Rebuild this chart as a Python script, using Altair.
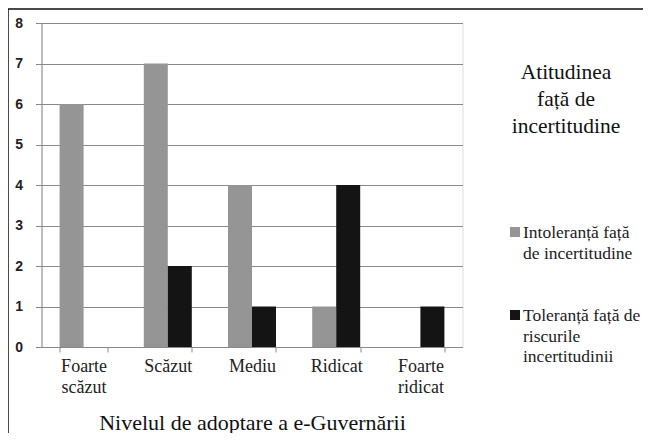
import altair as alt
import pandas as pd

categories = ["Foarte scăzut", "Scăzut", "Mediu", "Ridicat", "Foarte ridicat"]
series = ["Intoleranță față de incertitudine", "Toleranță față de riscurile incertitudinii"]
intoleranta = [6, 7, 4, 1, 0]
toleranta = [0, 2, 1, 4, 1]
colors = ["#959595", "#141414"]
legend_title = ["Atitudinea", "față de", "incertitudine"]
legend_lines = [["Intoleranță față", "de incertitudine"], ["Toleranță față de", "riscurile", "incertitudinii"]]

rows = []
for c, a, b in zip(categories, intoleranta, toleranta):
    rows.append({"cat": c, "series": series[0], "value": a})
    rows.append({"cat": c, "series": series[1], "value": b})
df = pd.DataFrame(rows)

label_expr = (
    "datum.label == 'Foarte scăzut' ? ['Foarte', 'scăzut'] : "
    "datum.label == 'Foarte ridicat' ? ['Foarte', 'ridicat'] : datum.label"
)

SERIF = "Liberation Serif, Times New Roman, serif"
W, H = 421, 324
color_scale = alt.Scale(domain=series, range=colors)

bars = alt.Chart(df).mark_bar().encode(
    x=alt.X(
        "cat:N",
        sort=categories,
        scale=alt.Scale(paddingInner=0.43, paddingOuter=0.215),
        axis=alt.Axis(
            title="Nivelul de adoptare a e-Guvernării",
            labelAngle=0,
            labelExpr=label_expr,
            labelFont=SERIF,
            labelFontSize=18,
            labelLineHeight=21,
            labelColor="#222222",
            labelPadding=5,
            labelBaseline="top",
            tickBand="extent",
            tickSize=5,
            tickColor="#8a8a8a",
            domainColor="#8a8a8a",
            titleFont=SERIF,
            titleFontSize=22,
            titleFontWeight="normal",
            titleColor="#111111",
            titlePadding=16,
        ),
    ),
    xOffset=alt.XOffset("series:N", sort=series),
    y=alt.Y(
        "value:Q",
        scale=alt.Scale(domain=[0, 8]),
        axis=alt.Axis(
            title=None,
            values=list(range(0, 9)),
            labelFont="Liberation Sans",
            labelFontWeight="bold",
            labelFontSize=14,
            labelColor="#222222",
            labelPadding=13,
            tickSize=6,
            tickColor="#8a8a8a",
            domainColor="#8a8a8a",
            gridColor="#8a8a8a",
            gridWidth=1,
        ),
    ),
    color=alt.Color("series:N", sort=series, scale=color_scale, legend=None),
)

one = pd.DataFrame({"b": [1]})

# frame: only top and left edges are visible in the reference (cropped image)
border = alt.Chart(one).mark_rect(
    fill=None, stroke="#111111", strokeWidth=1.5, clip=False
).encode(
    x=alt.value(-33.5), x2=alt.value(640), y=alt.value(-14), y2=alt.value(460)
)

leg_title = alt.Chart(one).mark_text(
    text=legend_title, font=SERIF, fontSize=21.5, lineHeight=27,
    align="center", baseline="alphabetic", color="#111111", clip=False
).encode(x=alt.value(524.5), y=alt.value(56))

leg_layers = []
sym_y = [209, 292]
for i, s in enumerate(series):
    sdf = pd.DataFrame({"series": [s]})
    sym = alt.Chart(sdf).mark_square(size=100, opacity=1, clip=False).encode(
        x=alt.value(473.5), y=alt.value(sym_y[i]),
        color=alt.Color("series:N", scale=color_scale, legend=None),
    )
    txt = alt.Chart(sdf).mark_text(
        text=legend_lines[i], font=SERIF, fontSize=17.5, lineHeight=20.5,
        align="left", baseline="alphabetic", color="#222222", clip=False
    ).encode(x=alt.value(481.5), y=alt.value(sym_y[i] + 6))
    leg_layers += [sym, txt]

chart = alt.layer(bars, border, leg_title, *leg_layers).properties(
    width=W,
    height=H,
    padding={"left": 33.5, "top": 15, "right": 180.5, "bottom": 86},
    autosize=alt.AutoSizeParams(type="none"),
).configure_view(stroke=None).configure(background="white").configure_text(font=SERIF)

chart.save("out.html", embed_options={"renderer": "svg", "actions": False})
